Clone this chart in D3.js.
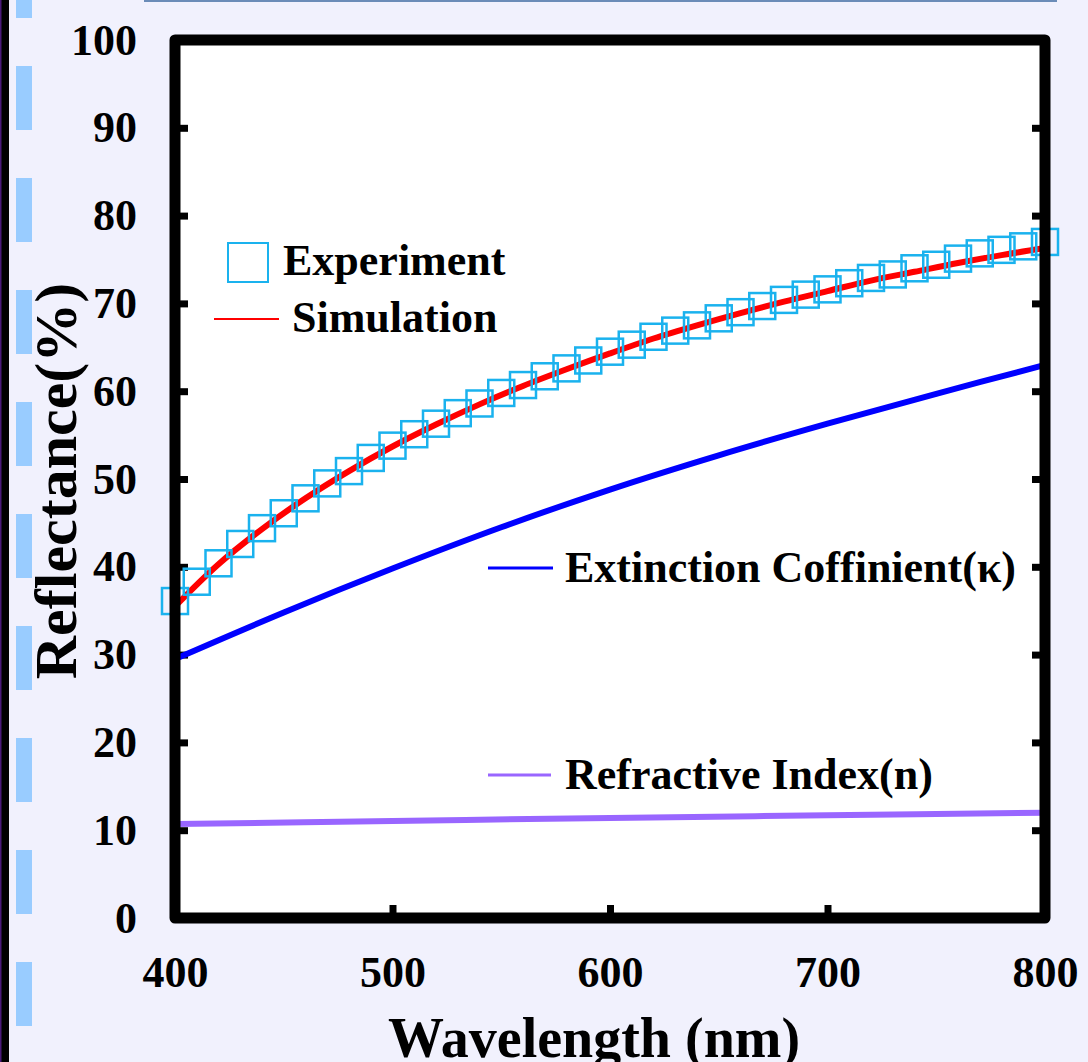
<!DOCTYPE html>
<html>
<head>
<meta charset="utf-8">
<script src="https://cdn.jsdelivr.net/npm/d3@7"></script>
<style>
  body { margin: 0; background: #f1f1fd; }
  svg { display: block; }
</style>
</head>
<body>
<div id="wrapper"></div>
<script>
// data
const expWavelength = d3.range(400, 801, 10);
const expReflectance = [
  36.1, 38.3, 40.4, 42.6, 44.4, 46.1, 47.8, 49.5, 50.9, 52.4,
  53.8, 55.1, 56.3, 57.5, 58.6, 59.8, 60.7, 61.7, 62.6, 63.5,
  64.5, 65.3, 66.2, 66.9, 67.5, 68.3, 69.0, 69.7, 70.4, 71.0,
  71.6, 72.3, 72.9, 73.3, 74.0, 74.4, 75.1, 75.7, 76.1, 76.5, 77.0
];

const simWavelength = [400, 420, 440, 460, 480, 500, 520, 540, 560, 580, 600,
  620, 640, 660, 680, 700, 720, 740, 760, 780, 800];
const simReflectance = [35.5, 40.3, 44.3, 47.8, 50.9, 53.7, 56.2, 58.5, 60.6, 62.5, 64.3,
  66.0, 67.5, 68.9, 70.2, 71.4, 72.6, 73.6, 74.6, 75.5, 76.3];

const kWavelength = [400, 450, 500, 550, 600, 650, 700, 750, 800];
const kReflectance = [29.5, 34.8, 39.8, 44.5, 48.8, 52.7, 56.3, 59.7, 63.0];

const nWavelength = [400, 500, 600, 700, 800];
const nReflectance = [10.7, 11.05, 11.4, 11.7, 12.0];

const xTicks = [400, 500, 600, 700, 800];
const yTicks = [0, 10, 20, 30, 40, 50, 60, 70, 80, 90, 100];

const legendLabels = ["Experiment", "Simulation", "Extinction Coffinient(\u03ba)", "Refractive Index(n)"];

const font = "'Liberation Serif', 'Times New Roman', serif";

const dimensions = {
  width: 1088,
  height: 1062,
  margin: { top: 40, right: 43, bottom: 144, left: 175 }
};
dimensions.boundedWidth = dimensions.width - dimensions.margin.left - dimensions.margin.right;
dimensions.boundedHeight = dimensions.height - dimensions.margin.top - dimensions.margin.bottom;

const wrapper = d3.select("#wrapper")
  .append("svg")
  .attr("width", dimensions.width)
  .attr("height", dimensions.height)
  .style("font-family", font)
  .style("font-weight", "bold");

wrapper.append("rect")
  .attr("width", dimensions.width)
  .attr("height", dimensions.height)
  .attr("fill", "#f1f1fd");

// page decorations: dark strip and dashed blue bar at left, thin line on top
wrapper.append("rect").attr("x", 0).attr("y", 0).attr("width", 9).attr("height", dimensions.height).attr("fill", "#000");
wrapper.append("rect").attr("x", 0).attr("y", 0).attr("width", 1.5).attr("height", dimensions.height).attr("fill", "#4b1a7a");
wrapper.append("line")
  .attr("x1", 24).attr("x2", 24)
  .attr("y1", -46).attr("y2", dimensions.height)
  .attr("stroke", "#99ccff")
  .attr("stroke-width", 16)
  .attr("stroke-dasharray", "64 48");
wrapper.append("line")
  .attr("x1", 144).attr("x2", 1057)
  .attr("y1", 1).attr("y2", 1)
  .attr("stroke", "#6b8cb8")
  .attr("stroke-width", 2);

const bounds = wrapper.append("g")
  .attr("transform", `translate(${dimensions.margin.left},${dimensions.margin.top})`);

bounds.append("rect")
  .attr("width", dimensions.boundedWidth)
  .attr("height", dimensions.boundedHeight)
  .attr("fill", "#fff");

// scales
const xScale = d3.scaleLinear()
  .domain([400, 800])
  .range([0, dimensions.boundedWidth]);

const yScale = d3.scaleLinear()
  .domain([0, 100])
  .range([dimensions.boundedHeight, 0]);

// axes
const styleAxis = (g) => {
  g.select(".domain").remove();
  g.selectAll(".tick line").attr("stroke", "#000").attr("stroke-width", 7);
  g.selectAll(".tick text").attr("fill", "#000").style("font-size", "44px").style("font-family", font);
};

bounds.append("g")
  .call(d3.axisLeft(yScale).tickValues(yTicks).tickSize(-13).tickPadding(38))
  .call(styleAxis);

bounds.append("g")
  .attr("transform", `translate(${dimensions.boundedWidth},0)`)
  .call(d3.axisRight(yScale).tickValues(yTicks.slice(1, -1)).tickSize(-13).tickFormat(""))
  .call(styleAxis);

bounds.append("g")
  .attr("transform", `translate(0,${dimensions.boundedHeight})`)
  .call(d3.axisBottom(xScale).tickValues(xTicks).tickSize(-13).tickPadding(38))
  .call(styleAxis);

// lines
const lineGen = (xs, ys) => d3.line()
  .x((d, i) => xScale(xs[i]))
  .y((d, i) => yScale(ys[i]))
  .curve(d3.curveCatmullRom)(ys);

bounds.append("path")
  .attr("d", lineGen(nWavelength, nReflectance))
  .attr("fill", "none")
  .attr("stroke", "#9966ff")
  .attr("stroke-width", 6);

bounds.append("path")
  .attr("d", lineGen(kWavelength, kReflectance))
  .attr("fill", "none")
  .attr("stroke", "#0000ff")
  .attr("stroke-width", 6);

bounds.append("path")
  .attr("d", lineGen(simWavelength, simReflectance))
  .attr("fill", "none")
  .attr("stroke", "#ff0000")
  .attr("stroke-width", 6);

// experiment markers
const markerSize = 26;
bounds.append("g")
  .selectAll("rect")
  .data(expReflectance)
  .join("rect")
  .attr("x", (d, i) => xScale(expWavelength[i]) - markerSize / 2)
  .attr("y", (d) => yScale(d) - markerSize / 2)
  .attr("width", markerSize)
  .attr("height", markerSize)
  .attr("fill", "none")
  .attr("stroke", "#1ab2ee")
  .attr("stroke-width", 2.5);

// frame
bounds.append("rect")
  .attr("width", dimensions.boundedWidth)
  .attr("height", dimensions.boundedHeight)
  .attr("fill", "none")
  .attr("stroke", "#000")
  .attr("stroke-width", 11)
  .attr("stroke-linejoin", "round");

// legends
const legend = wrapper.append("g").style("font-size", "44px").attr("fill", "#000");

legend.append("rect")
  .attr("x", 228).attr("y", 243).attr("width", 40).attr("height", 39)
  .attr("fill", "none").attr("stroke", "#1ab2ee").attr("stroke-width", 2);
legend.append("text").attr("x", 283).attr("y", 275).text(legendLabels[0]);

legend.append("line")
  .attr("x1", 214).attr("x2", 279).attr("y1", 319).attr("y2", 319)
  .attr("stroke", "#ff0000").attr("stroke-width", 2);
legend.append("text").attr("x", 292).attr("y", 332).text(legendLabels[1]);

legend.append("line")
  .attr("x1", 488).attr("x2", 553).attr("y1", 568).attr("y2", 568)
  .attr("stroke", "#0000ff").attr("stroke-width", 3);
legend.append("text").attr("x", 565).attr("y", 582).text(legendLabels[2]);

legend.append("line")
  .attr("x1", 488).attr("x2", 551).attr("y1", 775).attr("y2", 775)
  .attr("stroke", "#9966ff").attr("stroke-width", 3);
legend.append("text").attr("x", 565).attr("y", 789).text(legendLabels[3]);

// axis titles
wrapper.append("text")
  .attr("transform", "translate(76,481) rotate(-90)")
  .attr("text-anchor", "middle")
  .style("font-size", "60px")
  .text("Reflectance(%)");

wrapper.append("text")
  .attr("x", 594)
  .attr("y", 1057)
  .attr("text-anchor", "middle")
  .style("font-size", "56px")
  .text("Wavelength (nm)");
</script>
</body>
</html>
